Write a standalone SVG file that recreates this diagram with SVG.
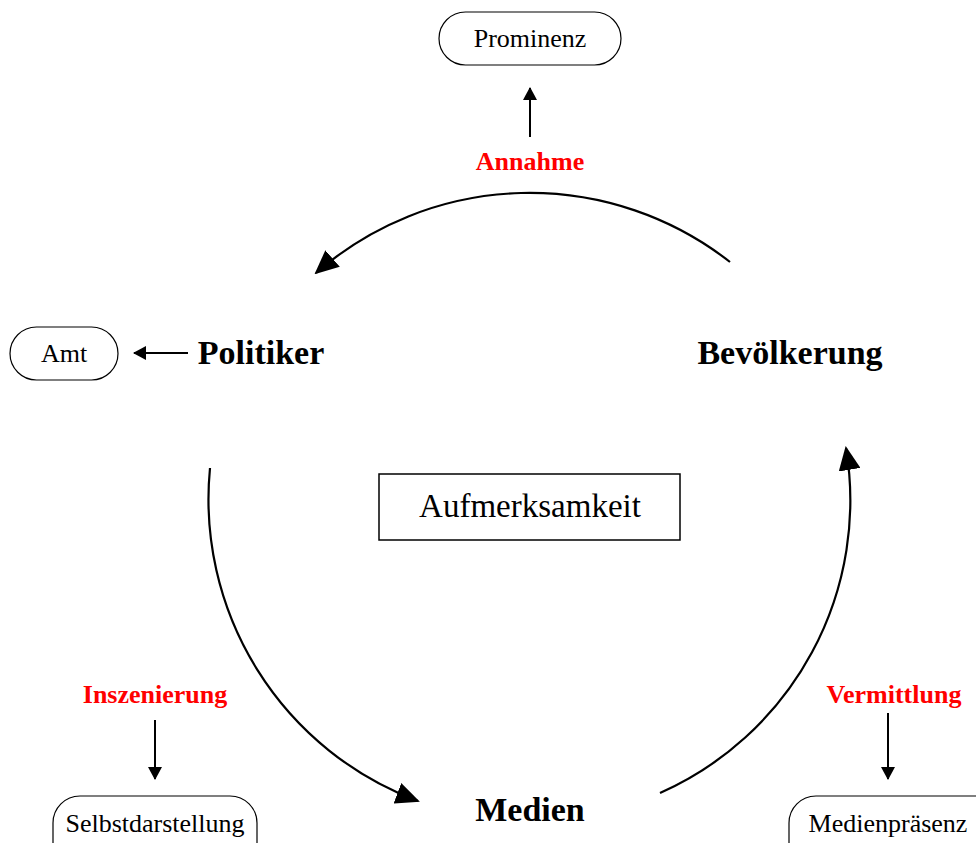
<svg xmlns="http://www.w3.org/2000/svg" width="976" height="843" viewBox="0 0 976 843">
<style>
.box{fill:#fff;stroke:#000;stroke-width:1.2}
.t{font-family:"Liberation Serif","Times New Roman",serif;fill:#000;text-anchor:middle}
.n{font-size:26px}
.b{font-size:34px;font-weight:bold}
.r{font-size:26px;font-weight:bold;fill:#ff0000}
.arc{fill:none;stroke:#000;stroke-width:2.2}
.sm{fill:none;stroke:#000;stroke-width:2}
</style>
<defs>
<marker id="big" viewBox="0 0 24 22" refX="22" refY="11" markerWidth="24" markerHeight="22" markerUnits="userSpaceOnUse" orient="auto">
<path d="M0,0 L24,11 L0,22 Z" fill="#000"/>
</marker>
<marker id="small" viewBox="0 0 13 14" refX="12" refY="7" markerWidth="13" markerHeight="14" markerUnits="userSpaceOnUse" orient="auto">
<path d="M0,0 L13,7 L0,14 Z" fill="#000"/>
</marker>
</defs>
<g id="connectors">
<path class="arc" d="M730,262 A325 325 0 0 0 316,273" marker-end="url(#big)"/>
<path class="arc" d="M210,468 A322 322 0 0 0 418,801" marker-end="url(#big)"/>
<path class="arc" d="M660,793 A320 320 0 0 0 846,448" marker-end="url(#big)"/>
<path class="sm" d="M530,137 L530,88" marker-end="url(#small)"/>
<path class="sm" d="M188,353 L134,353" marker-end="url(#small)"/>
<path class="sm" d="M155,720 L155,779" marker-end="url(#small)"/>
<path class="sm" d="M888,713 L888,779" marker-end="url(#small)"/>
</g>
<g id="prominenz">
<rect class="box" x="439" y="12" width="182" height="53" rx="26.5"/>
<text class="t n" x="530" y="47">Prominenz</text>
</g>
<g id="annahme"><text class="t r" x="530" y="170">Annahme</text></g>
<g id="amt">
<rect class="box" x="10" y="327" width="108" height="53" rx="26.5"/>
<text class="t n" x="64" y="362">Amt</text>
</g>
<g id="politiker"><text class="t b" x="261" y="364">Politiker</text></g>
<g id="bevoelkerung"><text class="t b" x="790" y="364">Bevölkerung</text></g>
<g id="aufmerksamkeit">
<rect x="379" y="474" width="301" height="66" fill="#fff" stroke="#000" stroke-width="1.5"/>
<text class="t" x="530" y="517" font-size="33">Aufmerksamkeit</text>
</g>
<g id="inszenierung"><text class="t r" x="155" y="703">Inszenierung</text></g>
<g id="vermittlung"><text class="t r" x="894" y="703">Vermittlung</text></g>
<g id="medien"><text class="t b" x="530" y="821">Medien</text></g>
<g id="selbstdarstellung">
<rect class="box" x="53" y="796" width="204" height="80" rx="27"/>
<text class="t n" x="155" y="832">Selbstdarstellung</text>
</g>
<g id="medienpraesenz">
<rect class="box" x="789" y="796" width="220" height="80" rx="27"/>
<text class="t n" x="888" y="832">Medienpräsenz</text>
</g>
</svg>
